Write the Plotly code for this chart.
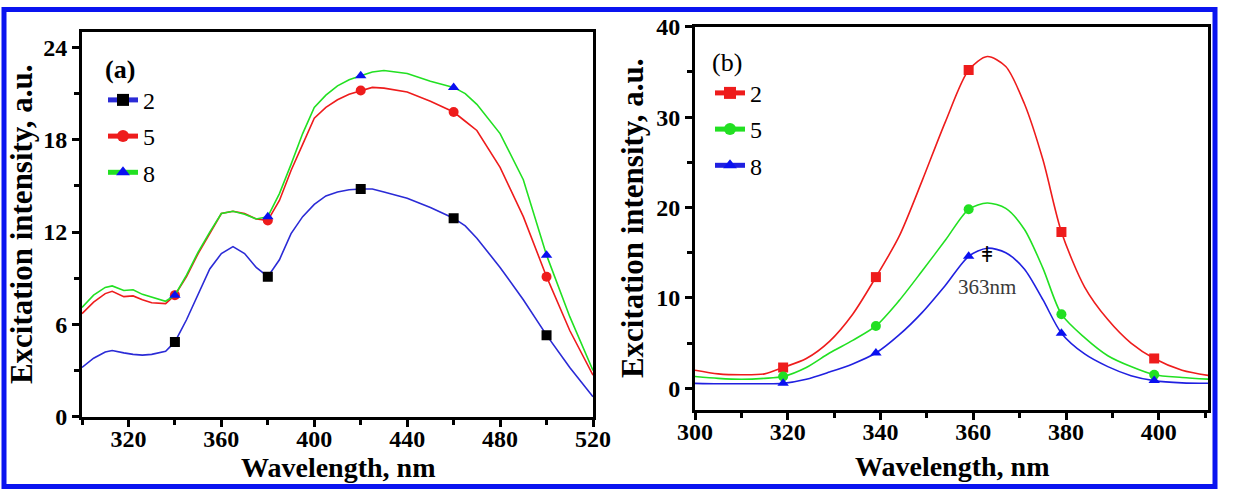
import plotly.graph_objects as go

# ---------------- data: panel (a) ----------------
wl_a = [300, 305, 310, 313, 318, 322, 326, 330, 336, 340, 345, 350, 355, 360, 365, 370, 375, 380,
        385, 390, 395, 400, 405, 410, 415, 420, 425, 430, 440, 450, 460, 465, 470, 480, 490, 500, 510, 520]
a_2 = [3.2, 3.8, 4.2, 4.3, 4.15, 4.05, 4.0, 4.05, 4.25, 4.86, 6.3, 8.0, 9.6, 10.6, 11.05, 10.6, 9.7, 9.1,
       10.2, 11.9, 13.0, 13.8, 14.35, 14.6, 14.75, 14.8, 14.8, 14.6, 14.2, 13.6, 12.9, 12.4, 11.6, 9.7, 7.6, 5.3, 3.2, 1.3]
a_5 = [6.7, 7.45, 8.0, 8.15, 7.8, 7.85, 7.6, 7.4, 7.35, 7.9, 9.1, 10.6, 11.9, 13.2, 13.35, 13.2, 12.85, 12.75,
       14.05, 16.0, 17.7, 19.4, 20.1, 20.6, 20.95, 21.2, 21.4, 21.35, 21.1, 20.5, 19.8, 19.2, 18.6, 16.2, 13.0, 9.1, 5.6, 2.7]
a_8 = [7.1, 7.9, 8.4, 8.5, 8.2, 8.25, 7.95, 7.75, 7.5, 7.9, 9.2, 10.7, 12.0, 13.2, 13.35, 13.15, 12.85, 13.0,
       14.5, 16.4, 18.4, 20.1, 20.9, 21.5, 21.9, 22.15, 22.4, 22.5, 22.3, 21.8, 21.4, 21.0, 20.3, 18.4, 15.4, 10.5, 6.5, 3.0]
marks_a = [340, 380, 420, 460, 500]

# ---------------- data: panel (b) ----------------
wl_b = [300, 305, 310, 315, 319, 324, 329, 334, 339, 344, 349, 354, 359, 363, 367, 371, 375, 379,
        384, 389, 394, 399, 405, 411]
b_2 = [2.0, 1.6, 1.5, 1.6, 2.3, 3.3, 5.2, 8.2, 12.3, 16.8, 23.0, 29.5, 35.2, 36.7, 35.6, 31.5, 25.3, 17.3,
       11.2, 7.6, 5.0, 3.3, 2.0, 1.4]
b_5 = [1.3, 1.1, 1.0, 1.1, 1.3, 2.3, 3.9, 5.3, 6.9, 9.7, 13.0, 16.4, 19.8, 20.5, 19.9, 17.6, 13.3, 8.2,
       5.6, 3.6, 2.4, 1.5, 1.2, 1.0]
b_8 = [0.55, 0.5, 0.5, 0.5, 0.55, 1.0, 1.8, 2.7, 3.9, 5.9, 8.4, 11.4, 14.6, 15.5, 15.0, 13.2, 9.8, 6.1,
       3.8, 2.4, 1.4, 0.85, 0.6, 0.55]
marks_b = [319, 339, 359, 379, 399]

labels = ["2", "5", "8"]
x_title = "Wavelength, nm"
y_title = "Excitation intensity, a.u."
peak_x, peak_label_y, peak_sym_y = 363, 11.2, 14.8

SERIF = "Liberation Serif"


def sizes(xs, marks, s):
    return [s if x in marks else 0 for x in xs]


fig = go.Figure()

specs_a = [
    (a_2, "#2b2bd6", "square", "#000000"),
    (a_5, "#ee1c1c", "circle", "#ee1c1c"),
    (a_8, "#22e022", "triangle-up", "#0a10f0"),
]
for (ys, lc, sym, mc), lab in zip(specs_a, labels):
    fig.add_trace(go.Scatter(
        x=wl_a, y=ys, mode="lines+markers", name=lab, legend="legend", legendgroup="a" + lab,
        line=dict(color=lc, width=1.6),
        marker=dict(symbol=sym, color=mc, opacity=1, line=dict(width=0),
                    size=sizes(wl_a, marks_a, 10)),
        xaxis="x", yaxis="y"))

specs_b = [
    (b_2, "#ee1c1c", "square", "#ee1c1c"),
    (b_5, "#22e022", "circle", "#22e022"),
    (b_8, "#2020e0", "triangle-up", "#0a10f0"),
]
for (ys, lc, sym, mc), lab in zip(specs_b, labels):
    fig.add_trace(go.Scatter(
        x=wl_b, y=ys, mode="lines+markers", name=lab, legend="legend2", legendgroup="b" + lab,
        line=dict(color=lc, width=1.6, shape="spline", smoothing=0.8),
        marker=dict(symbol=sym, color=mc, opacity=1, line=dict(width=0),
                    size=sizes(wl_b, marks_b, 10)),
        xaxis="x2", yaxis="y2"))

W, H = 1256, 495


def px_x(p):
    return p / W


def px_y(p):
    return 1 - p / H


tick_font = dict(family=SERIF, size=24, color="black", weight="bold")
xtitle_font = dict(family=SERIF, size=28, color="black", weight="bold")
ytitle_font = dict(family=SERIF, size=31, color="black", weight="bold")

common = dict(showline=True, linewidth=3, linecolor="black", mirror=True, ticks="outside",
              ticklen=7, tickwidth=2.5, tickcolor="black", showgrid=False, zeroline=False,
              tickfont=tick_font, automargin=False)
minor_style = dict(ticks="outside", ticklen=5, tickwidth=2.5, tickcolor="black")

fig.update_layout(
    width=W, height=H, margin=dict(l=0, r=0, t=0, b=0),
    paper_bgcolor="white", plot_bgcolor="white",
    xaxis=dict(domain=[px_x(82), px_x(593)], range=[300, 520], tickmode="linear", tick0=320, dtick=40,
               minor=dict(tick0=300, dtick=20, **minor_style), ticklabelstandoff=-9,
               anchor="y", **common),
    yaxis=dict(domain=[px_y(416.7), px_y(32)], range=[0, 25], tickmode="linear", tick0=0, dtick=6,
               minor=dict(tick0=0, dtick=3, **minor_style),
               title=dict(text=y_title, font=ytitle_font, standoff=2), anchor="x", **common),
    xaxis2=dict(domain=[px_x(695), px_x(1208)], range=[300, 410.6], tickmode="linear", tick0=300, dtick=20,
                minor=dict(tick0=300, dtick=10, **minor_style), ticklabelstandoff=-9,
                anchor="y2", **common),
    yaxis2=dict(domain=[px_y(410), px_y(26.7)], range=[-2.4, 40], tickmode="linear", tick0=0, dtick=10,
                minor=dict(tick0=0, dtick=5, **minor_style),
                title=dict(text=y_title, font=ytitle_font, standoff=4), anchor="x2", **common),
    legend=dict(x=px_x(103), y=px_y(44), xanchor="left", yanchor="top", bgcolor="rgba(0,0,0,0)",
                font=dict(family=SERIF, size=24, color="black"), itemsizing="constant",
                tracegroupgap=2,
                title=dict(text="(a)", font=dict(family=SERIF, size=26, color="black", weight="bold"))),
    legend2=dict(x=px_x(710), y=px_y(37), xanchor="left", yanchor="top", bgcolor="rgba(0,0,0,0)",
                 font=dict(family=SERIF, size=24, color="black"), itemsizing="constant",
                 tracegroupgap=2,
                 title=dict(text="(b)", font=dict(family=SERIF, size=26, color="black"))),
    shapes=[dict(type="rect", xref="paper", yref="paper", x0=px_x(4), x1=px_x(1215),
                 y0=px_y(486.5), y1=px_y(9.5), line=dict(color="#0a14f0", width=5))],
    annotations=[
        dict(x=0.5, y=px_y(467), xref="x domain", yref="paper", text=x_title, showarrow=False,
             xanchor="center", yanchor="middle", font=xtitle_font),
        dict(x=0.5, y=px_y(466), xref="x2 domain", yref="paper", text=x_title, showarrow=False,
             xanchor="center", yanchor="middle", font=xtitle_font),
        dict(x=peak_x, y=peak_label_y, xref="x2", yref="y2", text="363nm", showarrow=False,
             font=dict(family=SERIF, size=21, color="#3a3a3a")),
        dict(x=peak_x, y=peak_sym_y, xref="x2", yref="y2", text="ǂ", showarrow=False,
             font=dict(family="DejaVu Serif", size=22, color="black")),
    ],
)

fig.write_html("out.html")
